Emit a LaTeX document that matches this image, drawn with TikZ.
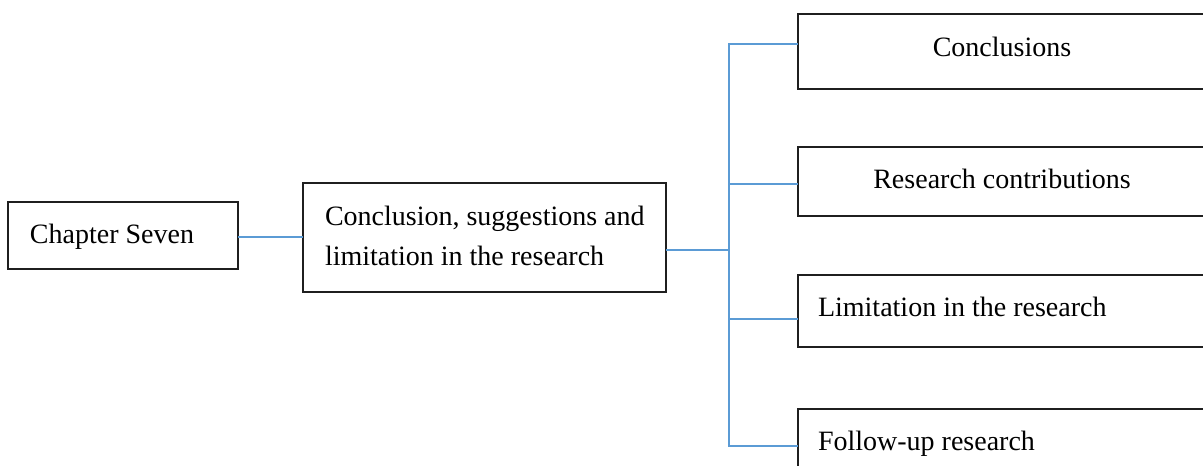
\documentclass[tikz,border=0pt]{standalone}
\usepackage{fontspec}
\setmainfont{Liberation Serif}
\definecolor{linkblue}{HTML}{5B9BD5}
\definecolor{edge}{HTML}{1F1F1F}
\begin{document}
\begin{tikzpicture}[x=1pt,y=-1pt,
  box/.style={draw=edge, line width=1.3pt, fill=white, rectangle,
              inner sep=0pt, outer sep=0pt, anchor=north west},
  txt/.style={inner sep=0pt, outer sep=0pt, font=\fontsize{28}{40}\selectfont},
  link/.style={draw=linkblue, line width=2.2pt}]
\clip (0,0) rectangle (1203,466);
\fill[white] (0,0) rectangle (1203,466);

% boxes
\node[box, minimum width=230pt, minimum height=67pt]  (chap) at (8,202) {};
\node[box, minimum width=363pt, minimum height=109pt] (mid)  at (303,183) {};
\node[box, minimum width=408pt, minimum height=75pt]  (c1)   at (798,14) {};
\node[box, minimum width=408pt, minimum height=69pt]  (c2)   at (798,147) {};
\node[box, minimum width=408pt, minimum height=72pt]  (c3)   at (798,275) {};
\node[box, minimum width=408pt, minimum height=72pt]  (c4)   at (798,409) {};

% texts
\node[txt, anchor=base west] (tchap) at (30,243) {Chapter Seven};
\node[txt, anchor=base west] (tmid1) at (325,225) {Conclusion, suggestions and};
\node[txt, anchor=base west] (tmid2) at (325,265) {limitation in the research};
\node[txt, anchor=base] (t1) at (1002,56) {Conclusions};
\node[txt, anchor=base] (t2) at (1002,188) {Research contributions};
\node[txt, anchor=base west] (t3) at (818,316) {Limitation in the research};
\node[txt, anchor=base west] (t4) at (818,450) {Follow-up research};

% junction points on the trunk
\coordinate (hub) at (729,250);
\coordinate (j1) at (729,44);
\coordinate (j2) at (729,184);
\coordinate (j3) at (729,319);
\coordinate (j4) at (729,446);
\coordinate (cj) at (238,237);

% connectors
\draw[link] (cj) -- (cj -| mid.west);
\draw[link] (hub -| mid.east) -- (hub);
\draw[link, line cap=rect] (j1) -- (j4);
\draw[link] (j1) -- (j1 -| c1.west);
\draw[link] (j2) -- (j2 -| c2.west);
\draw[link] (j3) -- (j3 -| c3.west);
\draw[link] (j4) -- (j4 -| c4.west);
\end{tikzpicture}
\end{document}
